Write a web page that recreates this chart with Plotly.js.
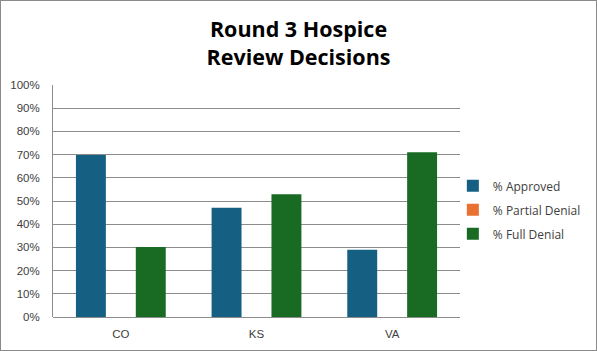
<!DOCTYPE html>
<html>
<head>
<meta charset="utf-8">
<script src="https://cdn.plot.ly/plotly-3.0.1.min.js"></script>
<style>
html,body{margin:0;padding:0;background:#fff;}
#wrap{position:relative;width:597px;height:351px;}
#chart{width:597px;height:351px;}
#frame{position:absolute;left:0;top:0;width:597px;height:351px;box-sizing:border-box;border:1px solid #8a8a8a;pointer-events:none;z-index:10;}
</style>
</head>
<body>
<div id="wrap"><div id="chart"></div><div id="frame"></div></div>
<script>
const states = ["CO", "KS", "VA"];
const approved = [0.698, 0.471, 0.290];
const partialDenial = [0, 0, 0];
const fullDenial = [0.302, 0.529, 0.710];
const seriesNames = ["% Approved", "% Partial Denial", "% Full Denial"];
const seriesColors = ["#156082", "#E97132", "#196B24"];
const yTicks = [0,0.1,0.2,0.3,0.4,0.5,0.6,0.7,0.8,0.9,1.0];
const yTickText = ["0%","10%","20%","30%","40%","50%","60%","70%","80%","90%","100%"];

const values = [approved, partialDenial, fullDenial];
const traces = values.map((v, i) => ({
  type: "bar",
  x: states,
  y: v,
  name: seriesNames[i],
  legendgroup: "g" + i,
  marker: {color: seriesColors[i], line: {width: 0}},
  hoverinfo: "skip"
}));

const layout = {
  width: 597, height: 351,
  margin: {l: 53, r: 136, t: 85, b: 33.5, pad: 0},
  paper_bgcolor: "#fff", plot_bgcolor: "#fff",
  barmode: "group", bargap: 0.338, bargroupgap: 0,
  title: {
    text: "Round 3 Hospice<br>Review Decisions",
    font: {family: "Open Sans, Arial, sans-serif", size: 21.5, color: "#000", weight: "bold"},
    x: 0.5, xref: "container", xanchor: "center",
    y: 0.895, yref: "container", yanchor: "top"
  },
  font: {family: "Liberation Sans, Arial, sans-serif", color: "#404040"},
  xaxis: {
    type: "category",
    showgrid: false, zeroline: false, showline: false,
    ticks: "", ticklabelstandoff: 8,
    tickfont: {family: "Liberation Sans, Arial, sans-serif", size: 11.5, color: "#404040"}
  },
  yaxis: {
    range: [0, 1], tickvals: yTicks, ticktext: yTickText,
    showgrid: true, gridcolor: "#8c8c8c", gridwidth: 1,
    zeroline: true, zerolinecolor: "#8c8c8c", zerolinewidth: 1,
    showline: true, linecolor: "#8c8c8c", linewidth: 1,
    ticks: "", ticklabelstandoff: 10,
    tickfont: {family: "Liberation Sans, Arial, sans-serif", size: 11.5, color: "#404040"}
  },
  legend: {
    x: 0.980, xanchor: "left", y: 0.462, yanchor: "middle",
    traceorder: "grouped", tracegroupgap: 5,
    font: {family: "Open Sans, Arial, sans-serif", size: 12, color: "#404040"},
    bgcolor: "rgba(0,0,0,0)", borderwidth: 0
  },
  showlegend: true
};

Plotly.newPlot("chart", traces, layout, {staticPlot: true, displayModeBar: false});
</script>
</body>
</html>
